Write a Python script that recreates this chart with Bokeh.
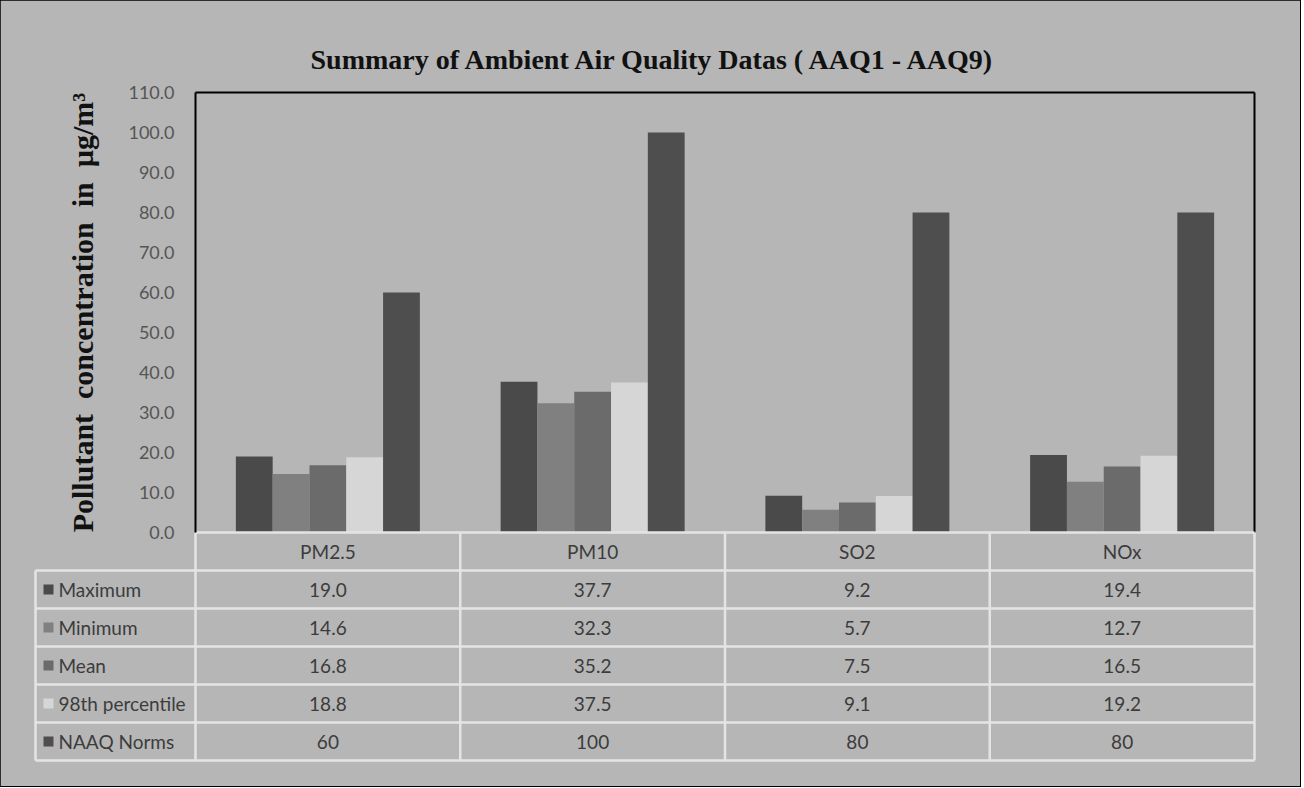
from bokeh.plotting import figure
from bokeh.models import Range1d, FixedTicker, NumeralTickFormatter
from bokeh.embed import file_html
from bokeh.resources import INLINE
from bokeh.core.properties import value

# ---------------- data ----------------
categories = ["PM2.5", "PM10", "SO2", "NOx"]
series_names = ["Maximum", "Minimum", "Mean", "98th percentile", "NAAQ Norms"]
maximum = [19.0, 37.7, 9.2, 19.4]
minimum = [14.6, 32.3, 5.7, 12.7]
mean = [16.8, 35.2, 7.5, 16.5]
pct98 = [18.8, 37.5, 9.1, 19.2]
naaq = [60, 100, 80, 80]
y_ticks = [0, 10, 20, 30, 40, 50, 60, 70, 80, 90, 100, 110]
title_text = "Summary of Ambient Air Quality Datas ( AAQ1 - AAQ9)"
y_label = "Pollutant\u00a0 concentration\u00a0 in\u00a0 µg/m³"

series_values = [maximum, minimum, mean, pct98, naaq]
series_colors = ["#4a4a4a", "#808080", "#6b6b6b", "#d6d6d6", "#4e4e4e"]
series_fmt = ["{:.1f}", "{:.1f}", "{:.1f}", "{:.1f}", "{:d}"]

BG = "#b6b6b6"
TXT = "#3c3c3c"
LINE = "#e4e4e4"
FONT = "Lato"

# ---------------- geometry (layout only) ----------------
W, H = 1300, 786
col_px = 1059 / 4.0          # one category column in pixels
px_y = 4.0                   # pixels per y unit
x0 = -160 / col_px           # left edge of the legend column of the table
row_h = 38 / px_y            # table row height in y units
n = len(categories)
nr = len(series_names)
y_bottom = -(nr + 1) * row_h
y_top = max(y_ticks)

x_start = x0 - 3 / col_px
x_end = n + 3 / col_px
y_start = y_bottom - 4 / px_y
y_end = y_top + 12 / px_y

frame_left = 32
frame_w = (x_end - x_start) * col_px
frame_top = 80
frame_h = (y_end - y_start) * px_y

p = figure(width=W, height=H, x_range=Range1d(x_start, x_end),
           y_range=Range1d(y_start, y_end), output_backend="svg",
           toolbar_location=None, x_axis_location=None,
           min_border_left=frame_left,
           min_border_right=int(round(W - frame_left - frame_w)),
           min_border_top=frame_top,
           min_border_bottom=int(round(H - frame_top - frame_h)),
           styles={"outline": "2px solid black", "outline-offset": "-1px",
                   "background-color": BG})
p.background_fill_color = BG
p.border_fill_color = BG
p.outline_line_color = None
p.grid.visible = False

# ---------------- bars ----------------
bw = 0.139
for s in range(nr):
    xs = [i + 0.5 + (s - 2) * bw for i in range(n)]
    p.vbar(x=xs, top=series_values[s], bottom=0, width=bw,
           fill_color=series_colors[s], line_color=None)

# frame lines (top and right of plot area)
p.segment(x0=[0, n], y0=[y_top, 0], x1=[n, n], y1=[y_top, y_top],
          line_color="black", line_width=2)

# ---------------- y axis ----------------
ya = p.yaxis[0]
ya.fixed_location = 0
ya.bounds = (0, y_top)
ya.ticker = FixedTicker(ticks=y_ticks)
ya.formatter = NumeralTickFormatter(format="0.0")
ya.axis_line_color = "black"
ya.axis_line_width = 2
ya.major_tick_line_color = None
ya.minor_tick_line_color = None
ya.major_label_standoff = 15
ya.major_label_text_font = FONT
ya.major_label_text_font_size = "18px"
ya.major_label_text_color = "#555555"
ya.axis_label = y_label
ya.axis_label_text_font = "Liberation Serif"
ya.axis_label_text_font_style = "bold"
ya.axis_label_text_font_size = "30px"
ya.axis_label_text_color = "#111111"
ya.axis_label_standoff = 26

# ---------------- title ----------------
p.title.text = title_text
p.title.align = "left"
p.title.offset = 278
p.title.standoff = 12
p.title.text_font = "Liberation Serif"
p.title.text_font_size = "28px"
p.title.text_font_style = "bold"
p.title.text_color = "#111111"

# ---------------- data table ----------------
hx0 = [0] + [x0] * (nr + 1)
hx1 = [n] * (nr + 2)
hy = [-k * row_h for k in range(nr + 2)]
p.segment(x0=hx0, y0=hy, x1=hx1, y1=hy, line_color=LINE, line_width=2.5)
vx = list(range(n + 1)) + [x0]
vy0 = [0] * (n + 1) + [-row_h]
vy1 = [y_bottom] * (n + 2)
p.segment(x0=vx, y0=vy0, x1=vx, y1=vy1, line_color=LINE, line_width=2.5)

centers = [i + 0.5 for i in range(n)]
p.text(x=centers, y=[-0.5 * row_h] * n, text=categories,
       text_align="center", text_baseline="middle", text_font=value(FONT),
       text_font_size="19px", text_color=TXT)

for r in range(nr):
    vals = [series_fmt[r].format(v) for v in series_values[r]]
    p.text(x=centers, y=[-(r + 1.5) * row_h] * n, text=vals,
           text_align="center", text_baseline="middle", text_font=value(FONT),
           text_font_size="19px", text_color=TXT)

row_y = [-(r + 1.5) * row_h for r in range(nr)]
p.scatter(x=[x0 + 13 / col_px] * nr, y=row_y, marker="square", size=10,
          color=series_colors, line_color=None)
p.text(x=[x0 + 23 / col_px] * nr, y=row_y, text=series_names,
       text_align="left", text_baseline="middle", text_font=value(FONT),
       text_font_size="19px", text_color=TXT)

open("out.html", "w").write(file_html(p, INLINE))
